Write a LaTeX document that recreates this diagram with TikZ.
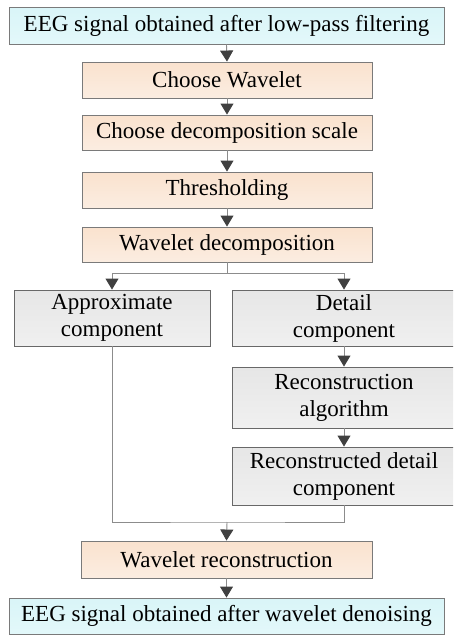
\documentclass[tikz,border=0pt]{standalone}
\usepackage{fontspec}
\setmainfont{Liberation Serif}
\newfontfamily\boxfont{Liberation Serif}
\usetikzlibrary{arrows.meta}
\definecolor{bordc}{HTML}{7A7A7A}
\definecolor{linec}{HTML}{8C8C8C}
\definecolor{tipc}{HTML}{404040}
\definecolor{cyantop}{HTML}{D9F5F8}
\definecolor{cyanmid}{HTML}{F0FCFD}
\definecolor{cyanbot}{HTML}{E3F8FA}
\definecolor{ortop}{HTML}{FAE2CE}
\definecolor{ormid}{HTML}{FEF5EE}
\definecolor{orbot}{HTML}{FBEDE1}
\definecolor{grtop}{HTML}{E6E6E6}
\definecolor{grmid}{HTML}{F8F8F8}
\definecolor{grbot}{HTML}{F0F0F0}
\tikzset{
  basebox/.style={rectangle, draw=bordc, line width=0.9pt, inner sep=0pt, align=center,
    font=\boxfont\fontsize{23}{27}\selectfont},
  cyanbox/.style={basebox, top color=cyantop, middle color=cyanmid, bottom color=cyanbot},
  orbox/.style={basebox, top color=ortop, middle color=ormid, bottom color=orbot},
  grbox/.style={basebox, draw=bordc!85!black, top color=grtop, middle color=grmid, bottom color=grbot},
  conn/.style={draw=linec, line width=0.9pt},
  arr/.style={conn, -{Triangle[width=13pt,length=11pt,fill=tipc,color=tipc]}},
}
\begin{document}
\begin{tikzpicture}[x=1pt,y=-1pt]
\clip (0,0) rectangle (453,635);
\fill[white] (0,0) rectangle (453,635);
\node[cyanbox, minimum width=435pt, minimum height=37pt] (top) at (226.5,25.5) {EEG signal obtained after low-pass filtering};
\node[orbox, minimum width=290pt, minimum height=36pt] (cw) at (227,80) {Choose Wavelet};
\node[orbox, minimum width=290pt, minimum height=35pt] (cds) at (227,132.5) {Choose decomposition scale};
\node[orbox, minimum width=290pt, minimum height=36pt] (thr) at (227,190) {Thresholding};
\node[orbox, minimum width=290pt, minimum height=35pt] (wd) at (227,244.5) {Wavelet decomposition};
\node[grbox, minimum width=196pt, minimum height=56pt] (ac) at (112,318) {Approximate\\component};
\node[grbox, minimum width=224pt, minimum height=56pt] (dc) at (344,318) {Detail\\component};
\node[grbox, minimum width=224pt, minimum height=61pt] (ra) at (344,397.5) {Reconstruction\\algorithm};
\node[grbox, minimum width=224pt, minimum height=58pt] (rdc) at (344,476) {Reconstructed detail\\component};
\node[orbox, minimum width=291pt, minimum height=37pt] (wr) at (226.5,559.5) {Wavelet reconstruction};
\node[cyanbox, minimum width=435pt, minimum height=36pt] (bot) at (226.5,616) {EEG signal obtained after wavelet denoising};
\draw[arr] (top.south) -- (cw.north);
\draw[arr] (cw.south) -- (cds.north);
\draw[arr] (cds.south) -- (thr.north);
\draw[arr] (thr.south) -- (wd.north);
\coordinate (split) at (227,273);
\draw[conn] (wd.south) -- (split);
\draw[arr] (split) -| (ac.north);
\draw[arr] (split) -| (dc.north);
\draw[arr] (dc.south) -- (ra.north);
\draw[arr] (ra.south) -- (rdc.north);
\coordinate (merge) at (227,522);
\draw[conn] (ac.south) |- (merge) -| (rdc.south);
\draw[arr] (merge) -- (wr.north);
\draw[arr] (wr.south) -- (bot.north);
\end{tikzpicture}
\end{document}
